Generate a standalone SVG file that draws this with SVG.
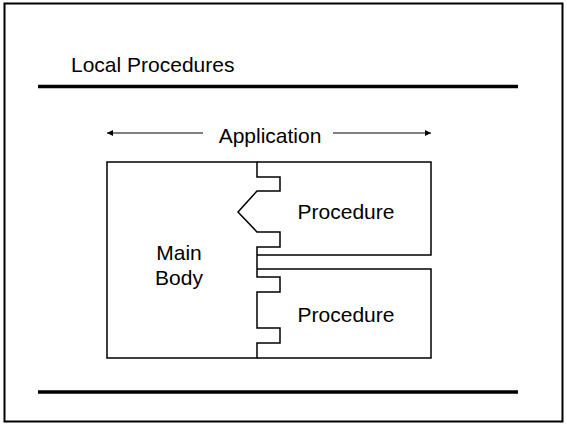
<svg xmlns="http://www.w3.org/2000/svg" width="567" height="424" viewBox="0 0 567 424">
<style>
.t{font-family:"Liberation Sans",Arial,sans-serif;font-size:21px;fill:#000}
.s{fill:none;stroke:#000;stroke-width:1.5;stroke-linejoin:miter}
.rule{stroke:#000;stroke-width:3.5}
</style>
<defs>
<marker id="ah" viewBox="0 0 10 10" refX="10" refY="5" markerWidth="8" markerHeight="6" markerUnits="userSpaceOnUse" orient="auto-start-reverse">
<path d="M0,0 L10,5 L0,10 Z" fill="#000"/>
</marker>
</defs>
<rect width="567" height="424" fill="#fff"/>
<rect x="4.5" y="3.5" width="558" height="418" fill="none" stroke="#000" stroke-width="2"/>
<g id="title">
<text class="t" x="71" y="72">Local Procedures</text>
<line class="rule" x1="38" y1="86.5" x2="518" y2="86.5"/>
</g>
<g id="footer">
<line class="rule" x1="38" y1="392" x2="518" y2="392"/>
</g>
<g id="connectors">
<line x1="203" y1="133" x2="107" y2="133" stroke="#000" stroke-width="1.2" marker-end="url(#ah)"/>
<line x1="333" y1="133" x2="431" y2="133" stroke="#000" stroke-width="1.2" marker-end="url(#ah)"/>
</g>
<g id="application-label">
<text class="t" x="270" y="143" text-anchor="middle">Application</text>
</g>
<g id="main-body">
<path class="s" d="M107,162 H257 V177 H280 V191 H257 L238,212 L257,232 H280 V247 H257 V277 H280 V292 H257 V328 H280 V343 H257 V358 H107 Z"/>
<text class="t" x="179" y="260" text-anchor="middle">Main</text>
<text class="t" x="179" y="285" text-anchor="middle">Body</text>
</g>
<g id="procedure-1">
<path class="s" d="M257,162 H431 V255 H257"/>
<text class="t" x="346" y="219" text-anchor="middle">Procedure</text>
</g>
<g id="procedure-2">
<path class="s" d="M257,269 H431 V358 H257"/>
<text class="t" x="346" y="322" text-anchor="middle">Procedure</text>
</g>
</svg>
